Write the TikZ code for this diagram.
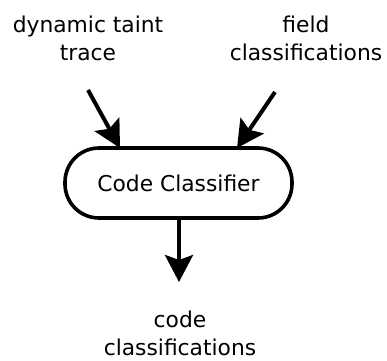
\documentclass[tikz,border=0pt]{standalone}
\usepackage{fontspec}
\setmainfont{DejaVu Sans}
\usetikzlibrary{arrows.meta,calc}
\tikzset{
  label text/.style={align=center, inner sep=0pt, outer sep=0pt,
    font=\fontsize{21.8pt}{28pt}\selectfont},
  classifier/.style={draw, line width=3.6pt, rounded corners=34pt,
    minimum width=227pt, minimum height=70pt, inner sep=0pt, outer sep=0pt,
    font=\fontsize{21.8pt}{28pt}\selectfont},
  flow/.style={line width=4pt, -{Stealth[length=27pt, width=28pt, inset=5pt]}}
}
\begin{document}
\begin{tikzpicture}[x=1pt, y=-1pt]
  \useasboundingbox (0,0) rectangle (387,360);

  \node[label text] (trace) at (88,38) {dynamic taint\\trace};
  \node[label text] (fields) at (306,38) {field\\classifications};
  \node[classifier] (cc) at (178.5,183) {Code Classifier};
  \node[label text] (codes) at (180,333) {code\\classifications};

  \coordinate (tracestart) at (88,90);
  \coordinate (fieldstart) at (275,92);
  \coordinate (outtip) at (179,282);

  \draw[flow] (tracestart) -- ($(cc.north)+(-58.5,0)$);
  \draw[flow] (fieldstart) -- ($(cc.north)+(58.5,0)$);
  \draw[flow] ($(cc.south)+(0.5,0)$) -- (outtip);
\end{tikzpicture}
\end{document}
